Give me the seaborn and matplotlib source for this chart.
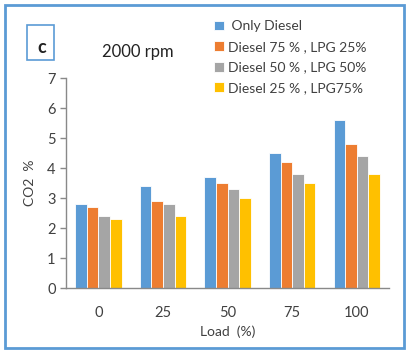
import matplotlib
matplotlib.use('Agg')
import matplotlib.pyplot as plt
from matplotlib.patches import Rectangle
import seaborn as sns
import pandas as pd

# data
loads = ['0', '25', '50', '75', '100']
series = [' Only Diesel', 'Diesel 75 % , LPG 25%', 'Diesel 50 % , LPG 50%', 'Diesel 25 % , LPG75%']
only_diesel = [2.8, 3.4, 3.7, 4.5, 5.6]
diesel75 = [2.7, 2.9, 3.5, 4.2, 4.8]
diesel50 = [2.4, 2.8, 3.3, 3.8, 4.4]
diesel25 = [2.3, 2.4, 3.0, 3.5, 3.8]
colores = ['#5B9BD5', '#ED7D31', '#A5A5A5', '#FFC000']

rows = []
for nome, vals in zip(series, [only_diesel, diesel75, diesel50, diesel25]):
    for l, v in zip(loads, vals):
        rows.append({'load': l, 'serie': nome, 'co2': v})
df = pd.DataFrame(rows)

sns.set_style('white')
plt.rcParams['font.family'] = ['Lato', 'DejaVu Sans']
txt = '#404040'

fig = plt.figure(figsize=(4.1, 3.53), dpi=100)
ax = fig.add_axes([0.161, 0.184, 0.788, 0.595])

sns.barplot(data=df, x='load', y='co2', hue='serie', order=loads, hue_order=series,
            palette=colores, saturation=1, width=0.72, edgecolor='white', linewidth=0.6, ax=ax)

ax.set_ylim(0, 7)
ax.set_xlim(-0.5, 4.5)
ax.set_yticks(range(0, 8))
ax.set_xticks(range(5))
ax.set_xticks([i - 0.5 for i in range(6)], minor=True)
ax.tick_params(axis='x', which='major', length=0, pad=13, labelsize=10.5, labelcolor=txt)
ax.tick_params(axis='x', which='minor', length=4, width=1, color='#898989', direction='out')
ax.tick_params(axis='y', length=4, width=1, color='#898989', direction='out', labelsize=10.5, labelcolor=txt, left=True)
ax.set_xlabel('Load  (%)', fontsize=10, color=txt, labelpad=4)
ax.set_ylabel('CO2  %', fontsize=10, color=txt, labelpad=8)
for s in ['top', 'right']:
    ax.spines[s].set_visible(False)
for s in ['left', 'bottom']:
    ax.spines[s].set_color('#898989')
    ax.spines[s].set_linewidth(1)

h, l = ax.get_legend_handles_labels()
ax.legend(h, l, loc='upper left', bbox_to_anchor=(0.505, 0.962), bbox_transform=fig.transFigure,
          frameon=False, fontsize=10, handlelength=0.7, handleheight=0.7, handletextpad=0.3,
          labelspacing=0.62, labelcolor=txt, borderpad=0)

# caja "c" y titulo
fig.patches.append(Rectangle((0.066, 0.830), 0.066, 0.099, transform=fig.transFigure,
                             fill=False, edgecolor='#5B9BD5', linewidth=1.2))
fig.text(0.102, 0.866, 'c', fontsize=13, fontweight='bold', color='#222222', ha='center', va='center')
fig.text(0.335, 0.853, '2000 rpm', fontsize=12, color='#222222', ha='center', va='center')

# borde exterior
fig.patches.append(Rectangle((0.012, 0.014), 0.973, 0.972, transform=fig.transFigure,
                             fill=False, edgecolor='#5B9BD5', linewidth=2))

fig.savefig('out.png', dpi=100)
